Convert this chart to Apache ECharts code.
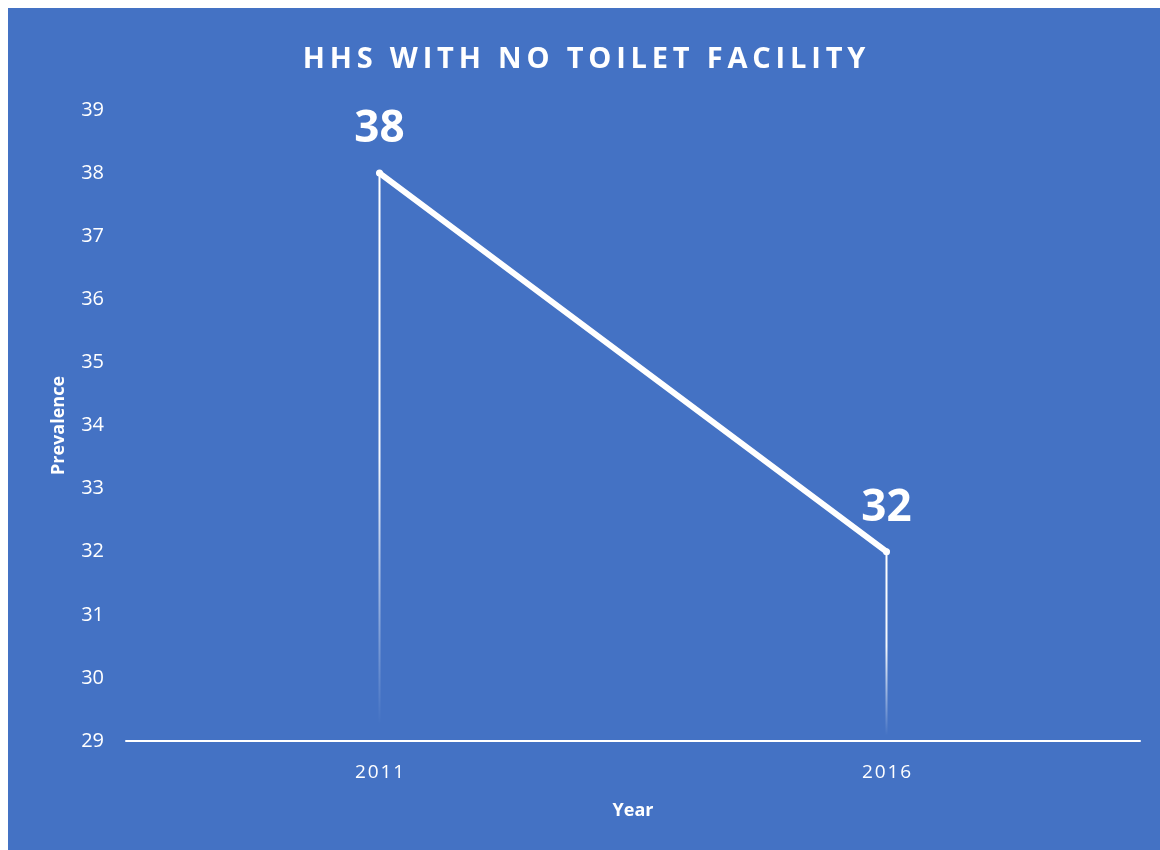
<!DOCTYPE html>
<html>
<head>
<meta charset="utf-8">
<script src="https://cdn.jsdelivr.net/npm/echarts@6/dist/echarts.min.js"></script>
<style>
    html, body { margin: 0; padding: 0; background: #fff; }
    #chart { position: absolute; left: 8px; top: 8px; width: 1152px; height: 842px; background: #4472c4; }
</style>
</head>
<body>
<div id="chart"></div>
<script>
    // data
    var years = ['2011', '2016'];
    var prevalence = [38, 32];
    var yMin = 29, yMax = 39;

    // spread letters a little, like the original's character spacing
    function spaced(s, gap) {
        return s.split('').join(gap);
    }

    var chart = echarts.init(document.getElementById('chart'));

    var option = {
        backgroundColor: '#4472c4',
        animation: false,
        title: {
            text: spaced('HHS WITH NO TOILET FACILITY', '\u2009'),
            left: 'center',
            top: 32,
            textStyle: {
                color: '#fff',
                fontFamily: 'Open Sans',
                fontWeight: 'bold',
                fontSize: 29
            }
        },
        grid: {
            left: 118,
            right: 20,
            top: 102,
            bottom: 109
        },
        xAxis: {
            type: 'category',
            data: years,
            boundaryGap: true,
            name: 'Year',
            nameLocation: 'middle',
            nameGap: 61,
            nameTextStyle: { color: '#fff', fontFamily: 'Open Sans', fontWeight: 'bold', fontSize: 18 },
            axisLine: { lineStyle: { color: '#fff', width: 2 } },
            axisTick: { show: false },
            axisLabel: {
                color: '#fff', fontFamily: 'Open Sans', fontSize: 19, margin: 22,
                formatter: function (v) { return spaced(v, '\u200a'); }
            }
        },
        yAxis: {
            type: 'value',
            min: yMin,
            max: yMax,
            interval: 1,
            name: 'Prevalence',
            nameLocation: 'middle',
            nameGap: 58,
            nameTextStyle: { color: '#fff', fontFamily: 'Open Sans', fontWeight: 'bold', fontSize: 18 },
            axisLine: { show: false },
            axisTick: { show: false },
            splitLine: { show: false },
            axisLabel: { color: '#fff', fontFamily: 'Open Sans', fontSize: 20, margin: 22 }
        },
        series: [{
            // drop lines, fading out towards the axis
            type: 'bar',
            data: prevalence,
            barWidth: 2,
            silent: true,
            itemStyle: {
                color: new echarts.graphic.LinearGradient(0, 0, 0, 1, [
                    { offset: 0, color: 'rgba(255,255,255,1)' },
                    { offset: 0.5, color: 'rgba(255,255,255,0.95)' },
                    { offset: 0.97, color: 'rgba(255,255,255,0)' },
                    { offset: 1, color: 'rgba(255,255,255,0)' }
                ])
            }
        }, {
            type: 'line',
            data: prevalence,
            symbol: 'circle',
            symbolSize: 7,
            itemStyle: { color: '#fff' },
            lineStyle: { color: '#fff', width: 6, cap: 'round' },
            label: {
                show: true,
                position: 'top',
                distance: 18,
                color: '#fff',
                fontFamily: 'Open Sans',
                fontWeight: 'bold',
                fontSize: 44
            }
        }]
    };

    chart.setOption(option);
</script>
</body>
</html>
